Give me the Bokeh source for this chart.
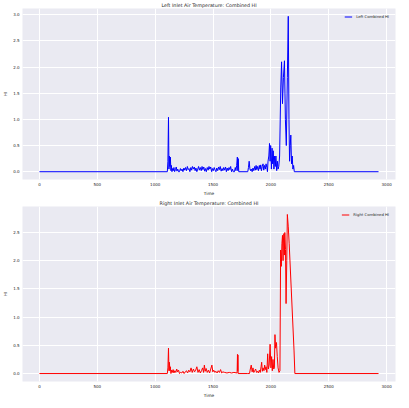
from bokeh.plotting import figure
from bokeh.layouts import column
from bokeh.models import Range1d, FixedTicker, NumeralTickFormatter, Legend, LegendItem
from bokeh.embed import file_html
from bokeh.resources import INLINE

# ---------------- data ----------------
left_t = [0, 1105, 1110, 1115, 1119, 1123, 1127, 1131, 1136, 1140, 1145, 1150, 1156, 1162, 1168,
          1175, 1182, 1188, 1195, 1202, 1210, 1218, 1225, 1232, 1240, 1248, 1255, 1262, 1270, 1278,
          1285, 1292, 1300, 1308, 1315, 1322, 1330, 1338, 1345, 1352, 1360, 1368, 1375, 1382, 1390,
          1398, 1405, 1412, 1420, 1428, 1435, 1442, 1450, 1458, 1465, 1472, 1480, 1488, 1495, 1502,
          1510, 1518, 1525, 1532, 1540, 1548, 1555, 1562, 1570, 1578, 1585, 1592, 1600, 1608, 1615,
          1622, 1630, 1638, 1645, 1652, 1660, 1668, 1675, 1685, 1692, 1698, 1704, 1710, 1714, 1718,
          1722, 1800, 1806, 1812, 1818, 1824, 1830, 1838, 1845, 1852, 1860, 1866, 1872, 1878, 1885,
          1892, 1900, 1906, 1912, 1918, 1925, 1932, 1938, 1945, 1952, 1958, 1965, 1970, 1975, 1982,
          1988, 1993, 1998, 2004, 2010, 2015, 2020, 2026, 2032, 2038, 2043, 2050, 2056, 2062, 2068,
          2075, 2085, 2092, 2100, 2108, 2117, 2125, 2133, 2142, 2150, 2156, 2161, 2167, 2172, 2178,
          2184, 2190, 2196, 2202, 2930]
left_v = [0.0, 0.0, 0.2, 1.04, 0.05, 0.3, 0.1, 0.28, 0.02, 0.12, 0.0, 0.06, 0.02, 0.08, 0.0,
          0.04, 0.09, 0.01, 0.05, 0.0, 0.0, 0.06, 0.02, 0.05, 0.0, 0.07, 0.03, 0.08, 0.02, 0.1,
          0.04, 0.06, 0.0, 0.08, 0.03, 0.1, 0.05, 0.09, 0.02, 0.07, 0.0, 0.05, 0.1, 0.03, 0.08,
          0.02, 0.1, 0.04, 0.09, 0.01, 0.06, 0.0, 0.08, 0.03, 0.1, 0.05, 0.09, 0.0, 0.06, 0.02,
          0.08, 0.03, 0.0, 0.07, 0.02, 0.09, 0.04, 0.1, 0.01, 0.06, 0.02, 0.08, 0.03, 0.09, 0.0,
          0.07, 0.02, 0.08, 0.04, 0.1, 0.0, 0.05, 0.0, 0.0, 0.08, 0.02, 0.12, 0.28, 0.02, 0.25,
          0.0, 0.0, 0.08, 0.2, 0.06, 0.02, 0.05, 0.0, 0.07, 0.02, 0.1, 0.03, 0.12, 0.04, 0.1,
          0.02, 0.12, 0.05, 0.13, 0.02, 0.1, 0.15, 0.03, 0.12, 0.05, 0.15, 0.08, 0.0, 0.2, 0.3,
          0.54, 0.2, 0.5, 0.05, 0.45, 0.15, 0.4, 0.05, 0.3, 0.1, 0.3, 0.02, 0.2, 0.05, 0.1,
          0.3, 1.6, 2.1, 1.3, 1.8, 2.12, 1.0, 0.5, 1.8, 2.97, 1.0, 0.2, 0.5, 0.7, 0.15,
          0.3, 0.05, 0.12, 0.0, 0.0]

right_t = [0, 1105, 1110, 1115, 1119, 1123, 1127, 1131, 1136, 1142, 1148, 1155, 1162, 1170, 1178,
           1186, 1194, 1202, 1210, 1220, 1230, 1240, 1250, 1260, 1270, 1280, 1290, 1300, 1310, 1320,
           1330, 1340, 1350, 1360, 1370, 1380, 1390, 1400, 1410, 1418, 1425, 1432, 1440, 1450, 1460,
           1470, 1480, 1490, 1498, 1506, 1515, 1525, 1535, 1545, 1555, 1565, 1575, 1585, 1600, 1620,
           1640, 1660, 1680, 1708, 1711, 1713, 1715, 1717, 1800, 1815, 1822, 1830, 1838, 1845, 1852,
           1860, 1868, 1876, 1884, 1892, 1900, 1908, 1915, 1920, 1926, 1932, 1940, 1946, 1952, 1958,
           1965, 1972, 1978, 1985, 1993, 2000, 2006, 2012, 2018, 2024, 2030, 2035, 2040, 2048, 2055,
           2062, 2070, 2078, 2084, 2090, 2095, 2100, 2105, 2108, 2112, 2116, 2120, 2126, 2131, 2137,
           2142, 2150, 2158, 2200, 2207, 2930]
right_v = [0.0, 0.0, 0.1, 0.45, 0.05, 0.2, 0.05, 0.12, 0.0, 0.06, 0.02, 0.07, 0.01, 0.05, 0.02,
           0.08, 0.03, 0.06, 0.0, 0.02, 0.01, 0.04, 0.0, 0.03, 0.05, 0.01, 0.06, 0.03, 0.1, 0.02,
           0.08, 0.03, 0.06, 0.12, 0.02, 0.07, 0.01, 0.05, 0.1, 0.02, 0.15, 0.04, 0.09, 0.02, 0.06,
           0.01, 0.08, 0.15, 0.03, 0.06, 0.02, 0.04, 0.01, 0.05, 0.02, 0.07, 0.01, 0.03, 0.02, 0.01,
           0.02, 0.01, 0.02, 0.01, 0.34, 0.05, 0.33, 0.0, 0.0, 0.0, 0.08, 0.15, 0.03, 0.1, 0.02,
           0.05, 0.08, 0.02, 0.04, 0.01, 0.06, 0.02, 0.12, 0.2, 0.04, 0.1, 0.05, 0.15, 0.07, 0.12,
           0.02, 0.35, 0.08, 0.15, 0.52, 0.1, 0.3, 0.05, 0.25, 0.08, 0.1, 0.69, 0.45, 0.55, 0.3,
           0.1, 0.02, 0.05, 2.19, 1.9, 2.3, 2.45, 2.0, 2.35, 2.48, 2.1, 2.5, 2.2, 1.24, 2.0,
           2.82, 2.6, 2.3, 0.4, 0.0, 0.0]

x_ticks = [0, 500, 1000, 1500, 2000, 2500, 3000]
y_ticks_left = [0.0, 0.5, 1.0, 1.5, 2.0, 2.5, 3.0]
y_ticks_right = [0.0, 0.5, 1.0, 1.5, 2.0, 2.5]

TEXT = "#262626"
FONT = "DejaVu Sans"


def make_fig(title, t, v, color, label, yrange, yticks, height, border_top):
    p = figure(width=399, height=height, output_backend="svg", toolbar_location=None,
               x_range=Range1d(-146.5, 3076.5), y_range=Range1d(*yrange),
               min_border_left=2, min_border_right=4, min_border_top=border_top,
               min_border_bottom=2)
    p.title.text = title
    p.title.align = "center"
    p.title.text_font = FONT
    p.title.text_font_size = "4.8px"
    p.title.text_font_style = "normal"
    p.title.text_color = TEXT
    p.title.standoff = 1
    p.title.offset = 0
    p.background_fill_color = "#EAEAF2"
    p.border_fill_color = "white"
    p.outline_line_color = None
    p.grid.grid_line_color = "white"
    p.grid.grid_line_width = 1
    p.xaxis.ticker = FixedTicker(ticks=x_ticks)
    p.yaxis.ticker = FixedTicker(ticks=yticks)
    p.yaxis.formatter = NumeralTickFormatter(format="0.0")
    p.xaxis.axis_label = "Time"
    p.yaxis.axis_label = "HI"
    for ax in (p.xaxis, p.yaxis):
        ax.axis_line_color = None
        ax.major_tick_line_color = None
        ax.minor_tick_line_color = None
        ax.major_tick_out = 0
        ax.major_tick_in = 0
        ax.minor_tick_out = 0
        ax.minor_tick_in = 0
        ax.major_label_text_font = FONT
        ax.major_label_text_font_size = "4px"
        ax.major_label_text_color = TEXT
        ax.axis_label_text_font = FONT
        ax.axis_label_text_font_size = "4.3px"
        ax.axis_label_text_font_style = "normal"
        ax.axis_label_text_color = TEXT
        ax.major_label_standoff = 3
        ax.axis_label_standoff = 2
    r = p.line(t, v, line_color=color, line_width=1.0)
    legend = Legend(items=[LegendItem(label=label, renderers=[r])], location="top_right",
                    background_fill_alpha=0, border_line_alpha=0,
                    label_text_font=FONT, label_text_font_size="3.8px", label_text_color=TEXT,
                    glyph_width=8, glyph_height=5, label_height=5, padding=3, margin=3,
                    spacing=0, label_standoff=4)
    p.add_layout(legend)
    return p


p1 = make_fig("Left Inlet Air Temperature: Combined HI", left_t, left_v, "blue",
              "Left Combined HI", (-0.149, 3.119), y_ticks_left, 198, 2)
p2 = make_fig("Right Inlet Air Temperature: Combined HI", right_t, right_v, "red",
              "Right Combined HI", (-0.141, 2.961), y_ticks_right, 202, 2)

layout = column(p1, p2, spacing=0)
open("out.html", "w").write(file_html(layout, INLINE))
